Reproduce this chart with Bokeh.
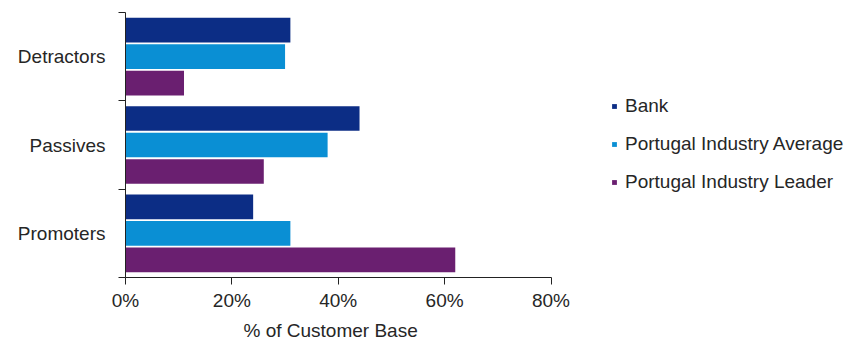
from bokeh.plotting import figure
from bokeh.models import (ColumnDataSource, Range1d, FixedTicker, PrintfTickFormatter,
                          Legend, LegendItem, Title)
from bokeh.embed import file_html
from bokeh.resources import INLINE

# ---- data ----
categories = ["Promoters", "Passives", "Detractors"]   # bottom -> top
series_names = ["Bank", "Portugal Industry Average", "Portugal Industry Leader"]
bank = [24, 44, 31]
industry_avg = [31, 38, 30]
industry_leader = [62, 26, 11]
x_ticks = [0, 20, 40, 60, 80]
x_title = "% of Customer Base"

colors = ["#0c2d85", "#0a8fd4", "#6a1f70"]
offsets = [0.30, 0.0, -0.30]
FONT = "Liberation Sans"
TXT = "#262626"

W, H = 849, 345
LEFT, TOP, BOTTOM = 125, 12, 68
AXIS_PX = 425.5                      # pixel length of the 0..80% axis
frame_w = W - LEFT
x_end = x_ticks[-1] * frame_w / AXIS_PX

p = figure(width=W, height=H, output_backend="svg", toolbar_location=None,
           x_range=Range1d(0, x_end), y_range=Range1d(0, 3),
           min_border_left=LEFT, min_border_right=0, min_border_top=TOP,
           min_border_bottom=BOTTOM)
p.outline_line_color = None
p.grid.grid_line_color = None
p.background_fill_color = "white"
p.border_fill_color = "white"

centers = [i + 0.5 for i in range(len(categories))]
renderers = []
for vals, col, off in zip([bank, industry_avg, industry_leader], colors, offsets):
    src = ColumnDataSource(dict(y=[c + off for c in centers], right=vals))
    r = p.hbar(y="y", right="right", left=0, height=0.28, source=src,
               fill_color=col, line_color=None)
    renderers.append(r)

# x axis
xa = p.xaxis[0]
xa.ticker = FixedTicker(ticks=x_ticks, minor_ticks=[])
xa.bounds = (x_ticks[0], x_ticks[-1])
xa.formatter = PrintfTickFormatter(format="%d%%")
xa.major_label_text_font = FONT
xa.major_label_text_font_size = "19px"
xa.major_label_text_color = TXT
xa.major_label_standoff = 5
xa.major_tick_in = 0
xa.major_tick_out = 7
xa.axis_line_color = "#222222"
xa.major_tick_line_color = "#222222"

# axis title centred under the 0..80% span
t = Title(text=x_title, align="left", offset=118, standoff=8,
          text_font=FONT, text_font_size="19px", text_font_style="normal",
          text_color=TXT)
p.add_layout(t, "below")

# y axis: labels at category centres, tick marks at category boundaries
ya = p.yaxis[0]
ya.ticker = FixedTicker(ticks=centers, minor_ticks=[0, 1, 2, 3])
ya.major_label_overrides = {c: name for c, name in zip(centers, categories)}
ya.major_label_text_font = FONT
ya.major_label_text_font_size = "19px"
ya.major_label_text_color = TXT
ya.major_label_standoff = 13
ya.major_tick_in = 0
ya.major_tick_out = 0
ya.minor_tick_in = 0
ya.minor_tick_out = 7
ya.minor_tick_line_color = "#222222"
ya.axis_line_color = "#222222"

legend = Legend(items=[LegendItem(label=n, renderers=[r]) for n, r in zip(series_names, renderers)],
                location=(486, 84))
legend.border_line_color = None
legend.background_fill_alpha = 0
legend.padding = 0
legend.margin = 0
legend.glyph_width = 6
legend.glyph_height = 6
legend.label_height = 20
legend.spacing = 16
legend.label_standoff = 8
legend.label_text_font = FONT
legend.label_text_font_size = "19px"
legend.label_text_color = TXT
p.add_layout(legend)

open("out.html", "w").write(file_html(p, INLINE))
